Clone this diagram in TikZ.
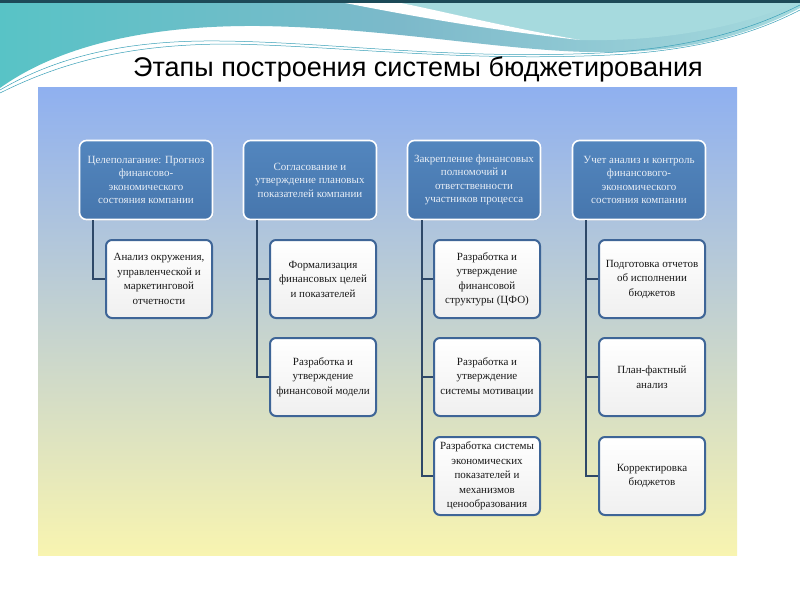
\documentclass[tikz,border=0pt]{standalone}
\usepackage{fontspec}
\setmainfont{Liberation Serif}
\newfontfamily\titlefont{Liberation Sans}
\usetikzlibrary{shadows}
\definecolor{topA}{HTML}{5386BE}
\definecolor{topB}{HTML}{4676AD}
\definecolor{toptext}{HTML}{E8EEF6}
\definecolor{subline}{HTML}{3E6597}
\definecolor{linkc}{HTML}{2E4868}
\definecolor{pTop}{HTML}{8FB0F0}
\definecolor{pMid}{HTML}{D8E4EA}
\definecolor{pBot}{HTML}{F8F4B0}
\definecolor{waveL}{HTML}{58C3C6}
\definecolor{waveM}{HTML}{7CB9CA}
\definecolor{waveR}{HTML}{A6DADE}
\definecolor{waveLine}{HTML}{3AA0B8}
\definecolor{topline}{HTML}{1D4A58}
\begin{document}
\begin{tikzpicture}[x=1pt,y=-1pt,
  topbox/.style={rectangle, rounded corners=7pt, minimum width=133pt, minimum height=79pt,
    top color=topA, bottom color=topB, draw=white, line width=1.6pt, text=toptext,
    font=\fontsize{11}{13.5}\selectfont, align=center, inner sep=2pt,
    drop shadow={opacity=0.35, shadow xshift=0.8pt, shadow yshift=-0.8pt}},
  subbox/.style={rectangle, rounded corners=6pt, minimum width=106pt, minimum height=78pt,
    top color=white, bottom color=gray!12, draw=subline, line width=2pt, text=black!90,
    font=\fontsize{11}{14.5}\selectfont, align=center, inner sep=2pt,
    drop shadow={opacity=0.25, shadow xshift=0.8pt, shadow yshift=-0.8pt}},
  link/.style={draw=linkc, line width=2.4pt}]
\useasboundingbox (0,0) rectangle (800,600);
\fill[white] (0,0) rectangle (800,600);
% top waves
\shade[left color=waveL, right color=waveR, middle color=waveM]
  (0,0) -- (800,0) -- (800,8) .. controls (760,30) and (700,50) .. (620,52)
  .. controls (520,55) and (400,28) .. (260,26)
  .. controls (150,25) and (60,45) .. (0,88) -- cycle;
\fill[waveR] (380,0) .. controls (430,8) and (490,24) .. (580,40)
  .. controls (680,42) and (750,22) .. (800,2) -- (800,0) -- cycle;
\fill[white] (330,0) .. controls (410,16) and (490,30) .. (580,40)
  .. controls (490,24) and (430,8) .. (385,0) -- cycle;
\draw[waveLine, line width=0.5pt] (0,90) .. controls (60,55) and (130,40) .. (220,41)
  .. controls (330,42) and (450,60) .. (600,53) .. controls (700,48) and (760,25) .. (800,5);
\draw[waveLine, line width=0.5pt] (0,93) .. controls (70,58) and (140,44) .. (230,44)
  .. controls (340,46) and (460,62) .. (610,55) .. controls (710,50) and (765,28) .. (800,10);
\fill[topline] (0,0) rectangle (800,2.5);
% title
\node[font=\titlefont\fontsize{27}{32}\selectfont, text=black] (title) at (418,69)
  {Этапы построения системы бюджетирования};
% panel
\shade[top color=pTop, middle color=pMid, bottom color=pBot] (38,87) rectangle (737,555);
% top boxes
\node[topbox] (t1) at (146,180) {Целеполагание: Прогноз\\финансово-\\экономического\\состояния компании};
\node[topbox] (t2) at (310,180) {Согласование и\\утверждение плановых\\показателей компании};
\node[topbox] (t3) at (474,180) {Закрепление финансовых\\полномочий и\\ответственности\\участников процесса};
\node[topbox] (t4) at (639,180) {Учет анализ и контроль\\финансового-\\экономического\\состояния компании};
% sub boxes
\node[subbox] (c1) at (159,279) {Анализ окружения,\\управленческой и\\маркетинговой\\отчетности};
\node[subbox] (c2a) at (323,279) {Формализация\\финансовых целей\\и показателей};
\node[subbox] (c2b) at (323,377) {Разработка и\\утверждение\\финансовой модели};
\node[subbox] (c3a) at (487,279) {Разработка и\\утверждение\\финансовой\\структуры (ЦФО)};
\node[subbox] (c3b) at (487,377) {Разработка и\\утверждение\\системы мотивации};
\node[subbox] (c3c) at (487,476) {Разработка системы\\экономических\\показателей и\\механизмов\\ценообразования};
\node[subbox] (c4a) at (652,279) {Подготовка отчетов\\об исполнении\\бюджетов};
\node[subbox] (c4b) at (652,377) {План-фактный\\анализ};
\node[subbox] (c4c) at (652,476) {Корректировка\\бюджетов};
% connectors
\draw[link] ([xshift=14pt]t1.south west) |- (c1.west);
\draw[link] ([xshift=14pt]t2.south west) |- (c2a.west);
\draw[link] ([xshift=14pt]t2.south west) |- (c2b.west);
\draw[link] ([xshift=15pt]t3.south west) |- (c3a.west);
\draw[link] ([xshift=15pt]t3.south west) |- (c3b.west);
\draw[link] ([xshift=15pt]t3.south west) |- (c3c.west);
\draw[link] ([xshift=14pt]t4.south west) |- (c4a.west);
\draw[link] ([xshift=14pt]t4.south west) |- (c4b.west);
\draw[link] ([xshift=14pt]t4.south west) |- (c4c.west);
\end{tikzpicture}
\end{document}
